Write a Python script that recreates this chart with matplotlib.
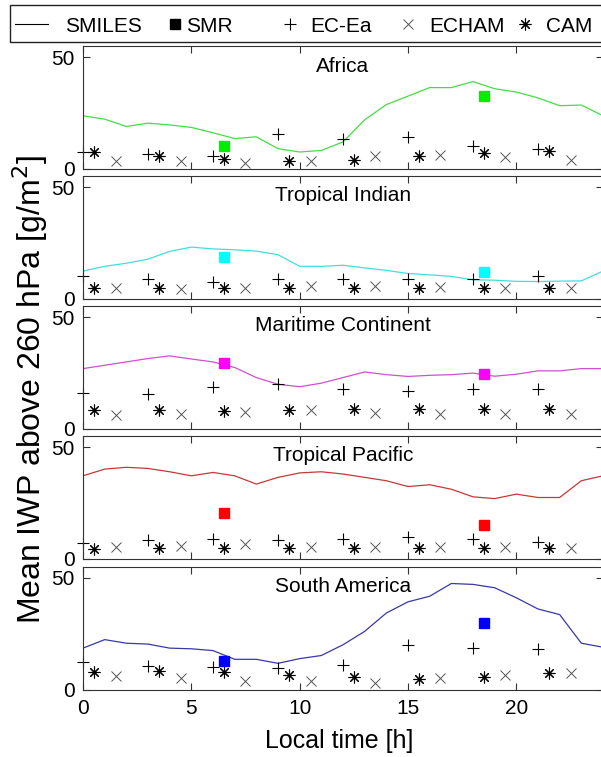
import matplotlib as mpl
import matplotlib.pyplot as plt
import numpy as np
from matplotlib.lines import Line2D
from matplotlib.patches import Rectangle

mpl.rcParams['font.family'] = ['Liberation Sans', 'DejaVu Sans']
mpl.rcParams['figure.facecolor'] = 'white'

# local time axes (hours)
hours = np.arange(25)
ec_time = [0, 3, 6, 9, 12, 15, 18, 21]
cam_time = [0.5, 3.5, 6.5, 9.5, 12.5, 15.5, 18.5, 21.5]
echam_time = [1.5, 4.5, 7.5, 10.5, 13.5, 16.5, 19.5, 22.5]
smr_time = [6.5, 18.5]

regions = ['Africa', 'Tropical Indian', 'Maritime Continent',
           'Tropical Pacific', 'South America']

smiles_africa = [23.8, 22.3, 19.0, 20.5, 19.7, 18.6, 16.2, 13.6, 14.4, 9.1,
                 7.6, 8.3, 12.1, 22.0, 28.8, 32.6, 36.4, 36.4, 39.1, 35.9,
                 34.4, 31.8, 28.3, 28.6, 23.8]
smiles_indian = [12.5, 14.6, 16.0, 17.8, 21.3, 23.2, 22.4, 22.0, 21.4, 19.8,
                 14.6, 14.6, 15.1, 13.9, 12.8, 11.4, 10.8, 10.1, 8.6, 8.4,
                 7.9, 7.8, 8.0, 8.1, 12.5]
smiles_maritime = [27.0, 28.5, 30.0, 31.5, 32.7, 31.3, 30.0, 27.5, 23.0, 20.0,
                   18.9, 20.5, 23.0, 25.5, 24.3, 23.5, 24.0, 24.3, 25.0, 23.6,
                   24.5, 26.0, 26.0, 27.0, 27.0]
smiles_pacific = [37.2, 40.2, 41.0, 40.5, 39.0, 37.2, 38.7, 37.2, 33.5, 36.5,
                  38.5, 39.0, 38.0, 36.5, 35.0, 32.4, 33.2, 31.2, 27.8, 27.0,
                  29.0, 27.5, 27.5, 35.0, 37.2]
smiles_samerica = [18.5, 22.3, 20.7, 20.3, 18.5, 18.2, 17.4, 13.5, 13.5, 11.7,
                   13.8, 15.2, 20.0, 26.0, 34.2, 39.2, 41.7, 47.4, 47.0, 45.5,
                   41.0, 36.0, 33.5, 20.7, 18.9]

ec_africa = [7.6, 6.5, 5.6, 15.6, 13.6, 14.4, 10.2, 8.8]
ec_indian = [10.5, 8.9, 7.8, 8.9, 9.0, 9.0, 8.9, 10.5]
ec_maritime = [16.2, 15.5, 18.8, 20.0, 17.7, 17.0, 17.7, 17.7]
ec_pacific = [7.2, 8.3, 9.0, 8.3, 9.0, 9.9, 9.0, 7.5]
ec_samerica = [12.5, 10.5, 9.9, 9.5, 11.0, 20.0, 18.5, 18.2]

echam_africa = [3.8, 3.5, 2.6, 3.5, 5.6, 6.1, 5.3, 4.2]
echam_indian = [4.8, 4.4, 5.1, 5.6, 5.9, 5.3, 5.1, 5.1]
echam_maritime = [6.2, 6.5, 7.8, 8.3, 7.2, 6.8, 6.8, 6.5]
echam_pacific = [5.4, 6.0, 6.5, 5.4, 5.4, 5.4, 5.4, 5.0]
echam_samerica = [6.2, 5.0, 3.9, 3.9, 3.0, 5.0, 6.5, 7.2]

cam_africa = [7.6, 5.6, 4.5, 3.5, 4.2, 5.6, 7.3, 7.9]
cam_indian = [5.1, 5.1, 4.8, 4.8, 4.8, 4.8, 4.8, 4.8]
cam_maritime = [8.3, 8.3, 8.0, 8.3, 9.0, 9.0, 9.0, 9.0]
cam_pacific = [4.5, 5.0, 5.0, 5.0, 5.0, 5.0, 5.0, 5.0]
cam_samerica = [8.0, 8.4, 7.7, 6.5, 5.4, 4.7, 5.4, 7.2]

smr_africa = [10.5, 32.6]
smr_indian = [18.8, 11.9]
smr_maritime = [29.6, 24.6]
smr_pacific = [20.7, 15.0]
smr_samerica = [12.9, 29.7]

smiles_all = [smiles_africa, smiles_indian, smiles_maritime, smiles_pacific, smiles_samerica]
ec_all = [ec_africa, ec_indian, ec_maritime, ec_pacific, ec_samerica]
echam_all = [echam_africa, echam_indian, echam_maritime, echam_pacific, echam_samerica]
cam_all = [cam_africa, cam_indian, cam_maritime, cam_pacific, cam_samerica]
smr_all = [smr_africa, smr_indian, smr_maritime, smr_pacific, smr_samerica]

line_colors = ['#44dd44', '#44dddd', '#d050d0', '#c83838', '#3838a8']
square_colors = ['#00ee00', '#00ffff', '#ff00ff', '#ff0000', '#0000ff']

asterisk = (8, 2, 0)  # plus and cross on top of each other
W, H = 601, 757


def plot():
    fig = plt.figure(figsize=(W / 100, H / 100), dpi=100)

    # panel layout in pixels (bottom edges from top of the figure)
    left_px, right_px, height_px = 83, 603, 123
    bottoms_px = [169, 299, 429, 559, 689.5]

    for i, name in enumerate(regions):
        b = bottoms_px[i]
        ax = fig.add_axes([left_px / W, 1 - b / H,
                           (right_px - left_px) / W, height_px / H])
        ax.plot(hours, smiles_all[i], color=line_colors[i], lw=0.9)
        ax.plot(ec_time, ec_all[i], '+', color='k', ms=9, mew=0.8, clip_on=False)
        ax.plot(echam_time, echam_all[i], 'x', color='#555555', ms=6.5, mew=0.7,
                clip_on=False)
        ax.plot(cam_time, cam_all[i], marker=asterisk, ls='none', color='k',
                ms=8.5, mew=0.8, clip_on=False)
        ax.plot(smr_time, smr_all[i], 's', color=square_colors[i], ms=6.5,
                mec=square_colors[i])

        ax.set_xlim(0, 24)
        ax.set_ylim(0, 55)
        ax.set_yticks([0, 50])
        ax.set_xticks([0, 5, 10, 15, 20])
        ax.tick_params(direction='in', top=True, right=True, length=5,
                       width=0.8, labelsize=15, color='#333333')
        ax.tick_params(axis='y', pad=6)
        ax.tick_params(axis='x', pad=7)
        if i < len(regions) - 1:
            ax.set_xticklabels([])
        for s in ax.spines.values():
            s.set_color('#333333')
            s.set_linewidth(0.8)
        ax.text(0.5, 1 - 20 / height_px, name, transform=ax.transAxes,
                ha='center', va='center', fontsize=15)

    fig.text(339 / W, 1 - 741 / H, 'Local time [h]', ha='center', va='center',
             fontsize=18)
    fig.text(30 / W, 1 - 390 / H, 'Mean IWP above 260 hPa [g/m$^2$]',
             rotation=90, ha='center', va='center', fontsize=23)

    # legend box across the top
    fig.add_artist(Rectangle((9.6 / W, 1 - 41.7 / H), (620 - 9.6) / W, 36.7 / H,
                             transform=fig.transFigure, fill=False,
                             ec='#222222', lw=1))
    ly = 1 - 23.8 / H
    fig.add_artist(Line2D([14.6 / W, 47.9 / W], [ly, ly], color='k', lw=0.8,
                          transform=fig.transFigure))
    fig.add_artist(Line2D([175 / W], [ly], marker='s', color='k', ms=6.5,
                          transform=fig.transFigure))
    fig.add_artist(Line2D([290 / W], [ly], marker='+', color='k', ms=9, mew=0.8,
                          transform=fig.transFigure))
    fig.add_artist(Line2D([408 / W], [ly], marker='x', color='#555555', ms=6.5,
                          mew=0.7, transform=fig.transFigure))
    fig.add_artist(Line2D([525 / W], [ly], marker=asterisk, color='k', ms=8.5,
                          mew=0.8, transform=fig.transFigure))
    base = 1 - 31.7 / H
    for x, label in [(65, 'SMILES'), (186, 'SMR'), (310.7, 'EC-Ea'),
                     (429, 'ECHAM'), (546, 'CAM')]:
        fig.text(x / W, base, label, ha='left', va='baseline', fontsize=15)

    plt.savefig('out.png', dpi=100)


if __name__ == '__main__':
    plot()
